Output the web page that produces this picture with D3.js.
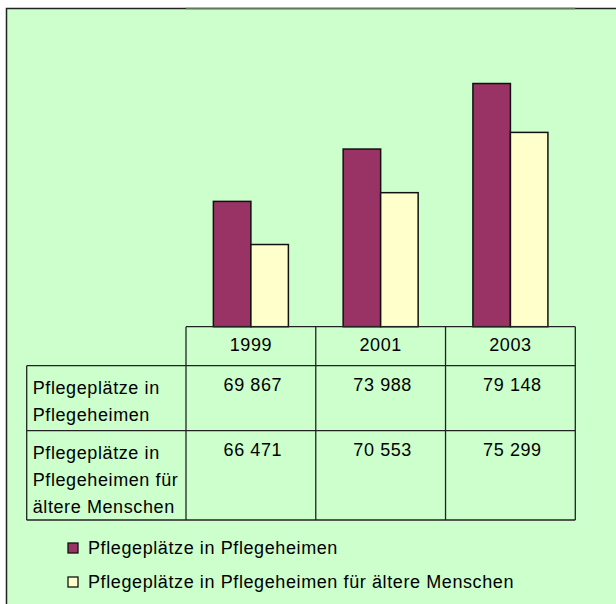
<!DOCTYPE html>
<html>
<head>
<meta charset="utf-8">
<script src="https://cdn.jsdelivr.net/npm/d3@7"></script>
<style>
    body { margin: 0; background: #fff; }
    text { font-family: "Liberation Sans", Arial, sans-serif; font-size: 18px; fill: #000; letter-spacing: 0.6px; }
</style>
</head>
<body>
<div id="chart"></div>
<script>
// data
var years = ["1999", "2001", "2003"];
var seriesNames = ["Pflegeplätze in Pflegeheimen", "Pflegeplätze in Pflegeheimen für ältere Menschen"];
var rowLabels = [["Pflegeplätze in", "Pflegeheimen"], ["Pflegeplätze in", "Pflegeheimen für", "ältere Menschen"]];
var platzeHeime = [69867, 73988, 79148];
var platzeAeltere = [66471, 70553, 75299];
var yDomain = [60000, 80000];

var seriesValues = [platzeHeime, platzeAeltere];
var colors = ["#993366", "#FFFFCC"];

var width = 616, height = 604;

var svg = d3.select("#chart")
    .append("svg")
    .attr("width", width)
    .attr("height", height);

// chart area (runs off the right and bottom edge)
svg.append("rect")
    .attr("x", 6.5)
    .attr("y", 8.5)
    .attr("width", 640)
    .attr("height", 640)
    .attr("fill", "#CCFFCC")
    .attr("stroke", "#222")
    .attr("stroke-width", 1.5);

var x0 = d3.scaleBand()
    .domain(years)
    .range([186, 575.3]);

var x1 = d3.scaleBand()
    .domain([0, 1])
    .range([0, x0.bandwidth()])
    .paddingOuter(0.73);

var y = d3.scaleLinear()
    .domain(yDomain)
    .range([326.7, 72.7]);

// lighter piece of the top border above the table span
svg.append("line")
    .attr("x1", x0.range()[0])
    .attr("x2", x0.range()[1])
    .attr("y1", 8.5)
    .attr("y2", 8.5)
    .attr("stroke", "#5f7a5f")
    .attr("stroke-width", 1.5);

// bars
var groups = svg.selectAll(".year")
    .data(years)
    .enter().append("g")
    .attr("class", "year")
    .attr("transform", function (d) { return "translate(" + x0(d) + ",0)"; });

groups.selectAll("rect")
    .data(function (d, i) {
        return seriesValues.map(function (s, k) { return {k: k, v: s[i]}; });
    })
    .enter().append("rect")
    .attr("x", function (d) { return x1(d.k); })
    .attr("y", function (d) { return y(d.v); })
    .attr("width", x1.bandwidth())
    .attr("height", function (d) { return y(yDomain[0]) - y(d.v); })
    .attr("fill", function (d) { return colors[d.k]; })
    .attr("stroke", "#111")
    .attr("stroke-width", 1.5);

// data table
var fmt = d3.formatLocale({decimal: ",", thousands: " ", grouping: [3], currency: ["", ""]}).format(",d");
var tableTop = y(yDomain[0]);
var rowHeights = [39, 65, 89.3];
var rowTops = [tableTop, tableTop + rowHeights[0], tableTop + rowHeights[0] + rowHeights[1]];
var tableBottom = rowTops[2] + rowHeights[2];
var labelLeft = 26.7;
var lineColor = "#222";

var table = svg.append("g").attr("class", "data-table");

// horizontal lines
table.append("line")
    .attr("x1", x0.range()[0]).attr("x2", x0.range()[1])
    .attr("y1", rowTops[0]).attr("y2", rowTops[0]);
[rowTops[1], rowTops[2], tableBottom].forEach(function (yy) {
    table.append("line")
        .attr("x1", labelLeft).attr("x2", x0.range()[1])
        .attr("y1", yy).attr("y2", yy);
});
// vertical lines
table.append("line")
    .attr("x1", labelLeft).attr("x2", labelLeft)
    .attr("y1", rowTops[1]).attr("y2", tableBottom);
years.concat(["end"]).forEach(function (d) {
    var xx = d === "end" ? x0.range()[1] : x0(d);
    table.append("line")
        .attr("x1", xx).attr("x2", xx)
        .attr("y1", rowTops[0]).attr("y2", tableBottom);
});
table.selectAll("line")
    .attr("stroke", lineColor)
    .attr("stroke-width", 1.3);

// header
table.selectAll(".year-label")
    .data(years)
    .enter().append("text")
    .attr("class", "year-label")
    .attr("x", function (d) { return x0(d) + x0.bandwidth() / 2; })
    .attr("y", rowTops[0] + 24)
    .attr("text-anchor", "middle")
    .text(function (d) { return d; });

// row labels and values
rowLabels.forEach(function (lines, r) {
    lines.forEach(function (line, j) {
        table.append("text")
            .attr("x", labelLeft + 6)
            .attr("y", rowTops[r + 1] + 28 + j * 27)
            .text(line);
    });
    table.selectAll(".val-" + r)
        .data(seriesValues[r])
        .enter().append("text")
        .attr("class", "val-" + r)
        .attr("x", function (d, i) { return x0(years[i]) + x0.bandwidth() / 2 + 2; })
        .attr("y", rowTops[r + 1] + 25)
        .attr("text-anchor", "middle")
        .text(function (d) { return fmt(d); });
});

// legend
var legend = svg.append("g")
    .attr("transform", "translate(68,543)");

var items = legend.selectAll(".item")
    .data(seriesNames)
    .enter().append("g")
    .attr("class", "item")
    .attr("transform", function (d, i) { return "translate(0," + (i * 34) + ")"; });

items.append("rect")
    .attr("width", 10)
    .attr("height", 10)
    .attr("fill", function (d, i) { return colors[i]; })
    .attr("stroke", "#111")
    .attr("stroke-width", 1.3);

items.append("text")
    .attr("x", 20)
    .attr("y", 10.5)
    .text(function (d) { return d; });
</script>
</body>
</html>
